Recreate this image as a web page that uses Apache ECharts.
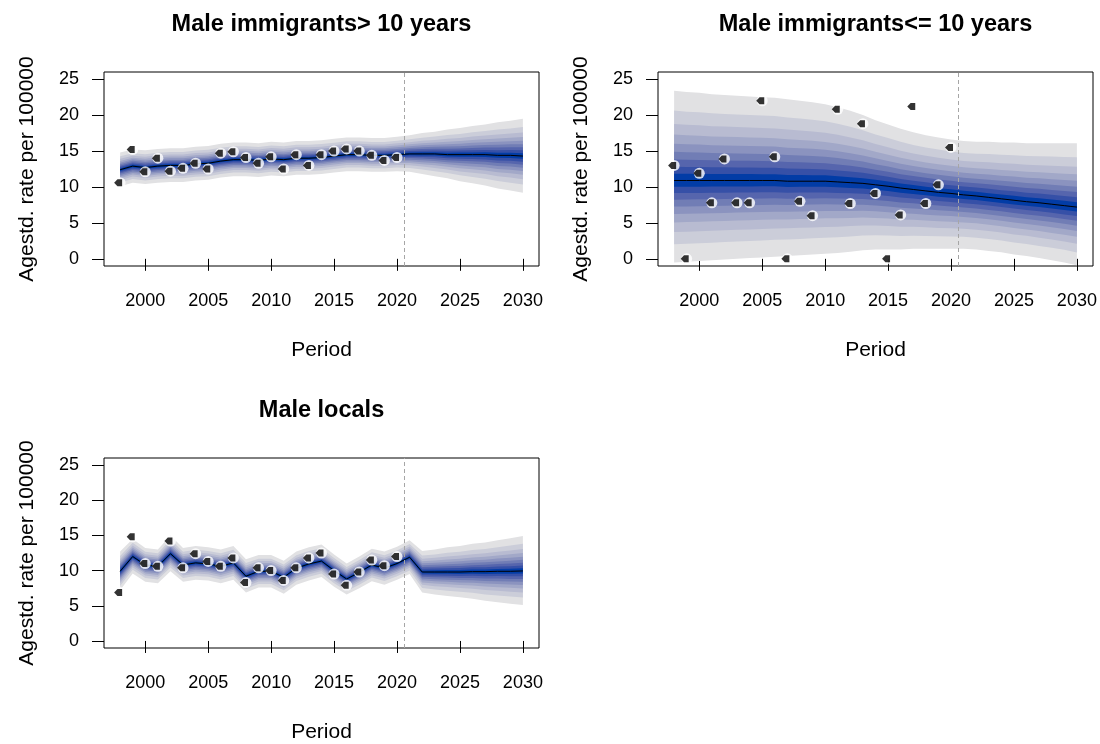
<!DOCTYPE html>
<html>
<head>
<meta charset="utf-8">
<script src="https://cdn.jsdelivr.net/npm/echarts@6/dist/echarts.min.js"></script>
<style>
  html, body { margin: 0; padding: 0; background: #ffffff; }
  #chart { width: 1100px; height: 744px; }
</style>
</head>
<body>
<div id="chart"></div>
<script>
// ---- data -------------------------------------------------------------
const panelTitles = ['Male immigrants> 10 years', 'Male immigrants<= 10 years', 'Male locals'];

const fitYears = [1998, 1999, 2000, 2001, 2002, 2003, 2004, 2005, 2006, 2007,
                  2008, 2009, 2010, 2011, 2012, 2013, 2014, 2015, 2016, 2017,
                  2018, 2019, 2020, 2021, 2022, 2023, 2024, 2025, 2026, 2027,
                  2028, 2029, 2030];
const obsYears = [1998, 1999, 2000, 2001, 2002, 2003, 2004, 2005, 2006, 2007,
                  2008, 2009, 2010, 2011, 2012, 2013, 2014, 2015, 2016, 2017,
                  2018, 2019, 2020];

const xTicks = [2000, 2005, 2010, 2015, 2020, 2025, 2030];
const yTicks = [0, 5, 10, 15, 20, 25];
const forecastStart = 2020.55;

// Male immigrants > 10 years
const median1 = [12.4, 12.9, 12.7, 12.9, 13.0, 13.0, 13.2, 13.3, 13.6, 13.8,
                 13.8, 13.7, 13.9, 13.8, 14.0, 14.0, 14.1, 14.3, 14.5, 14.5,
                 14.4, 14.4, 14.5, 14.6, 14.6, 14.6, 14.5, 14.5, 14.5, 14.5,
                 14.4, 14.4, 14.3];
const upper1  = [14.8, 15.2, 15.1, 15.3, 15.4, 15.4, 15.6, 15.7, 16.0, 16.2,
                 16.2, 16.1, 16.3, 16.2, 16.4, 16.4, 16.5, 16.7, 16.9, 16.9,
                 16.8, 16.8, 17.0, 17.2, 17.5, 17.7, 18.0, 18.2, 18.5, 18.7,
                 19.0, 19.2, 19.5];
const lower1  = [10.1, 10.6, 10.4, 10.6, 10.7, 10.7, 10.9, 11.0, 11.3, 11.5,
                 11.5, 11.4, 11.6, 11.5, 11.7, 11.7, 11.8, 12.0, 12.2, 12.2,
                 12.1, 12.1, 12.2, 12.1, 11.8, 11.5, 11.2, 10.8, 10.5, 10.2,
                 9.8, 9.5, 9.2];
const obs1    = [10.6, 15.2, 12.1, 14.0, 12.2, 12.6, 13.3, 12.5, 14.7, 14.9,
                 14.1, 13.3, 14.2, 12.5, 14.5, 13.0, 14.5, 15.0, 15.3, 15.0,
                 14.4, 13.7, 14.1];

// Male immigrants <= 10 years
const median2 = [10.9, 10.9, 10.9, 10.9, 10.9, 10.9, 10.9, 10.9, 10.9, 10.8,
                 10.8, 10.8, 10.8, 10.7, 10.6, 10.5, 10.3, 10.1, 9.85, 9.65,
                 9.45, 9.25, 9.1, 8.9, 8.75, 8.55, 8.35, 8.15, 7.95, 7.8,
                 7.6, 7.4, 7.2];
const upper2  = [23.4, 23.2, 23.1, 22.9, 22.8, 22.7, 22.6, 22.5, 22.4, 22.2,
                 22.0, 21.8, 21.5, 21.1, 20.6, 20.0, 19.3, 18.7, 18.1, 17.6,
                 17.2, 16.9, 16.6, 16.4, 16.3, 16.3, 16.2, 16.2, 16.1, 16.1,
                 16.1, 16.1, 16.1];
const lower2  = [-0.5, -0.4, -0.3, -0.2, -0.1, 0.0, 0.1, 0.2, 0.3, 0.4,
                 0.5, 0.6, 0.7, 0.8, 1.0, 1.2, 1.3, 1.3, 1.3, 1.4,
                 1.4, 1.4, 1.4, 1.4, 1.3, 1.1, 0.9, 0.6, 0.4, 0.1,
                 -0.2, -0.5, -0.9];
const obs2    = [13.0, 0, 11.9, 7.8, 13.9, 7.8, 7.8, 22.0, 14.2, 0,
                 8.0, 6.0, null, 20.8, 7.7, 18.8, 9.1, 0, 6.1, 21.2,
                 7.7, 10.3, 15.5];

// Male locals
const median3 = [9.9, 12.0, 10.8, 10.6, 12.4, 10.8, 11.1, 10.95, 10.6, 11.1,
                 9.2, 9.9, 9.9, 9.05, 10.35, 10.95, 11.35, 10.0, 8.8, 9.75,
                 10.8, 10.35, 11.0, 11.9, 9.8, 9.8, 9.8, 9.8, 9.85, 9.85,
                 9.9, 9.9, 9.95];
const upper3  = [12.7, 14.5, 13.2, 13.0, 15.0, 13.2, 13.5, 13.3, 13.0, 13.5,
                 11.6, 12.2, 12.2, 11.4, 12.7, 13.3, 13.7, 12.3, 11.0, 12.0,
                 13.1, 12.7, 13.4, 14.3, 12.8, 13.0, 13.3, 13.5, 13.8, 14.0,
                 14.3, 14.6, 14.9];
const lower3  = [7.2, 9.6, 8.4, 8.2, 9.9, 8.4, 8.7, 8.6, 8.2, 8.7,
                 6.9, 7.6, 7.6, 6.7, 8.0, 8.6, 9.1, 7.7, 6.6, 7.5,
                 8.5, 8.0, 8.7, 9.5, 6.9, 6.6, 6.4, 6.2, 6.0, 5.7,
                 5.5, 5.3, 5.1];
const obs3    = [6.9, 14.8, 11.0, 10.6, 14.2, 10.4, 12.4, 11.3, 10.6, 11.8,
                 8.3, 10.4, 10.0, 8.6, 10.4, 11.8, 12.5, 9.5, 7.9, 9.8,
                 11.5, 10.7, 12.0];

// Fan chart quantile levels 5%, 10%, ..., 95% as standard normal scores
const fanZ = [-1.6449, -1.2816, -1.0364, -0.8416, -0.6745, -0.5244, -0.3853, -0.2533, -0.1257, 0,
              0.1257, 0.2533, 0.3853, 0.5244, 0.6745, 0.8416, 1.0364, 1.2816, 1.6449];
// Band colours from the outermost interval inwards
const fanColors = ['#e1e1e3', '#cbcdd9', '#b8bbd1', '#a2a8c8', '#8b93bf',
                   '#717db5', '#5665ad', '#3650a7', '#023ca6'];

// ---- layout -------------------------------------------------------------
const FONT = '"Liberation Sans", Arial, Helvetica, sans-serif';
const grids = [
  { left: 104, top: 72,  width: 435, height: 194 },
  { left: 658, top: 72,  width: 435, height: 194 },
  { left: 104, top: 458, width: 435, height: 194 }
];
const panels = [
  { median: median1, lower: lower1, upper: upper1, obs: obs1 },
  { median: median2, lower: lower2, upper: upper2, obs: obs2 },
  { median: median3, lower: lower3, upper: upper3, obs: obs3 }
];

// Quantile boundary rows for one panel (outer interval is the 5%-95% range)
function quantileRows(p) {
  const zMax = fanZ[fanZ.length - 1];
  return fanZ.map(z => p.median.map((m, i) =>
    z >= 0 ? m + (p.upper[i] - m) * z / zMax : m + (m - p.lower[i]) * z / zMax));
}

const series = [];
panels.forEach((p, pi) => {
  const rows = quantileRows(p);
  const last = rows.length - 1;
  // nested interval polygons, widest first
  series.push({
    type: 'custom', xAxisIndex: pi, yAxisIndex: pi, z: 1, silent: true, clip: true,
    data: fanColors.map(() => [fitYears[0], p.median[0]]),
    renderItem: function (params, api) {
      const j = params.dataIndex;
      const lo = rows[j], hi = rows[last - j];
      const pts = [];
      for (let i = 0; i < fitYears.length; i++) pts.push(api.coord([fitYears[i], hi[i]]));
      for (let i = fitYears.length - 1; i >= 0; i--) pts.push(api.coord([fitYears[i], lo[i]]));
      return {
        type: 'polygon',
        shape: { points: pts },
        style: { fill: fanColors[j], stroke: null }
      };
    }
  });
  // median line with the forecast start marker
  series.push({
    type: 'line', xAxisIndex: pi, yAxisIndex: pi,
    data: fitYears.map((yr, i) => [yr, p.median[i]]),
    symbol: 'none', lineStyle: { color: '#000000', width: 1 }, silent: true, z: 3,
    markLine: {
      silent: true, symbol: 'none', label: { show: false },
      lineStyle: { color: '#a6a6a6', width: 1, type: [4, 3] },
      data: [{ xAxis: forecastStart }]
    }
  });
  const pts = obsYears.map((yr, i) => [yr, p.obs[i]]).filter(d => d[1] !== null);
  series.push({
    type: 'scatter', xAxisIndex: pi, yAxisIndex: pi, data: pts,
    symbol: 'circle', symbolSize: 11, itemStyle: { color: '#ffffff' }, silent: true, z: 4
  });
  series.push({
    type: 'scatter', xAxisIndex: pi, yAxisIndex: pi, data: pts,
    symbol: 'path://M0,50 L42,4 L100,4 L100,96 L42,96 Z', symbolSize: [8, 7], symbolOffset: [-2, 0],
    itemStyle: { color: '#000000' }, silent: true, z: 5
  });
});

const xAxes = grids.map((g, i) => ({
  type: 'value', gridIndex: i, min: 1996.72, max: 2031.28,
  name: 'Period', nameLocation: 'middle', nameGap: 74,
  nameTextStyle: { fontSize: 21, color: '#000', fontFamily: FONT },
  axisLine: { show: false },
  axisTick: { show: true, inside: false, length: 12, customValues: xTicks, lineStyle: { color: '#000', width: 1 } },
  axisLabel: { customValues: xTicks, margin: 26, fontSize: 18, color: '#000', fontFamily: FONT,
               formatter: v => String(v) },
  splitLine: { show: false }
}));
const yAxes = grids.map((g, i) => ({
  type: 'value', gridIndex: i, min: -1, max: 26,
  name: 'Agestd. rate per 100000', nameLocation: 'middle', nameGap: 66,
  nameTextStyle: { fontSize: 21, color: '#000', fontFamily: FONT },
  axisLine: { show: false },
  axisTick: { show: true, inside: false, length: 12, customValues: yTicks, lineStyle: { color: '#000', width: 1 } },
  axisLabel: { customValues: yTicks, margin: 25, fontSize: 18, color: '#000', fontFamily: FONT,
               formatter: v => String(v) },
  splitLine: { show: false }
}));

const titleGraphics = panelTitles.map((t, i) => ({
  type: 'text',
  x: grids[i].left + grids[i].width / 2,
  y: i < 2 ? 25 : 411,
  style: {
    text: t, fill: '#000', font: 'bold 23.5px ' + FONT,
    textAlign: 'center', textVerticalAlign: 'middle'
  }
}));

const chart = echarts.init(document.getElementById('chart'), null, { renderer: 'canvas' });
chart.setOption({
  animation: false,
  backgroundColor: '#ffffff',
  grid: grids.map(g => Object.assign({ show: true, borderColor: '#000', borderWidth: 1, backgroundColor: 'transparent' }, g)),
  xAxis: xAxes,
  yAxis: yAxes,
  graphic: titleGraphics,
  series: series
});
</script>
</body>
</html>
